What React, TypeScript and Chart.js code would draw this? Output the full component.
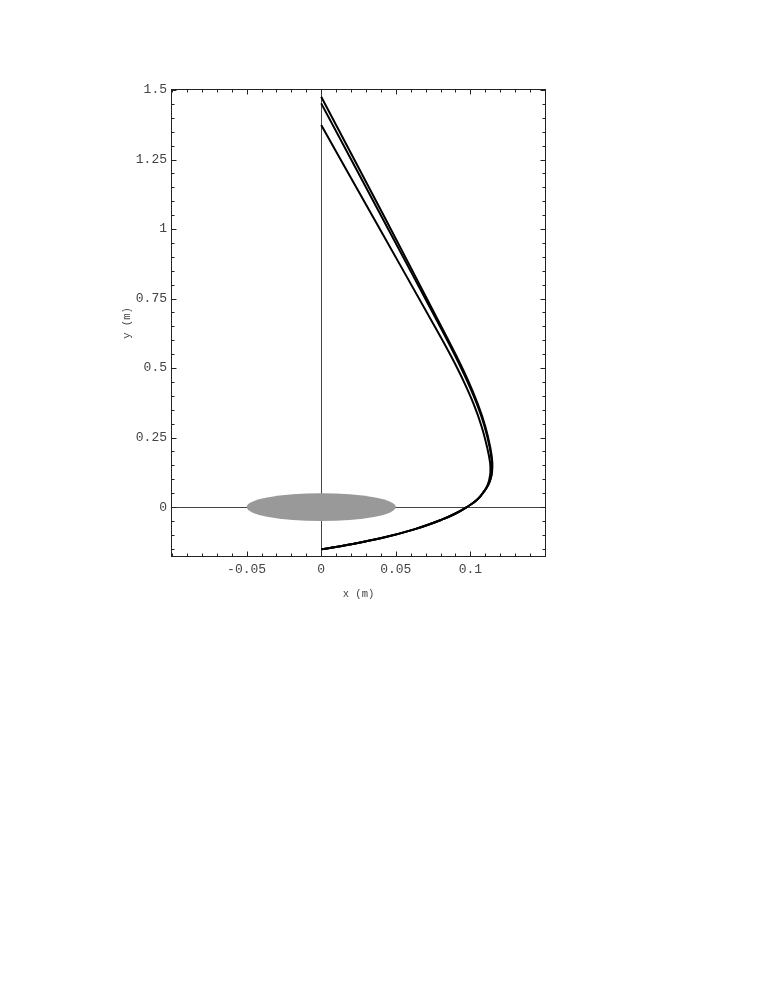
import React, { useEffect, useRef } from "react";
import { Chart, registerables } from "chart.js";

Chart.register(...registerables);

// ---- data ----
const curveA: [number, number][] = [
  [0, 1.476], [0.0432, 1.035], [0.0817, 0.637], [0.0905, 0.545], [0.0985, 0.455],
  [0.1050, 0.370], [0.1100, 0.290], [0.1133, 0.215], [0.1147, 0.160], [0.1145, 0.125],
  [0.1135, 0.100], [0.1120, 0.080], [0.1099, 0.062], [0.1045, 0.026], [0.0976, 0],
  [0.0897, -0.024], [0.0808, -0.0454], [0.0629, -0.0792], [0.0405, -0.1113], [0.0181, -0.1354], [0, -0.152],
];
const curveB: [number, number][] = [
  [0, 1.452], [0.0414, 1.035], [0.0809, 0.637], [0.0897, 0.545], [0.0977, 0.455],
  [0.1044, 0.370], [0.1095, 0.290], [0.1129, 0.215], [0.1144, 0.160], [0.1143, 0.125],
  [0.1134, 0.100], [0.1120, 0.080], [0.1099, 0.062], [0.1045, 0.026], [0.0976, 0],
  [0.0897, -0.024], [0.0808, -0.0454], [0.0629, -0.0792], [0.0405, -0.1113], [0.0181, -0.1354], [0, -0.152],
];
const curveC: [number, number][] = [
  [0, 1.374], [0.0356, 1.035], [0.0795, 0.617], [0.0878, 0.535], [0.0955, 0.452],
  [0.1022, 0.370], [0.1075, 0.290], [0.1112, 0.215], [0.1132, 0.160], [0.1134, 0.125],
  [0.1127, 0.100], [0.1116, 0.080], [0.1099, 0.062], [0.1045, 0.026], [0.0976, 0],
  [0.0897, -0.024], [0.0808, -0.0454], [0.0629, -0.0792], [0.0405, -0.1113], [0.0181, -0.1354], [0, -0.152],
];
const xTickValues = [-0.05, 0, 0.05, 0.1];
const xTickLabels = ["-0.05", "0", "0.05", "0.1"];
const yTickValues = [0, 0.25, 0.5, 0.75, 1, 1.25, 1.5];
const yTickLabels = ["0", "0.25", "0.5", "0.75", "1", "1.25", "1.5"];
const xRange = [-0.1, 0.15];
const yRange = [-0.176, 1.5];
const xMinorStep = 0.01;
const yMinorStep = 0.05;
const ball = { cx: 0, cy: 0, r: 0.05 };

const toPts = (arr: [number, number][]) => arr.map(([x, y]) => ({ x, y }));

const framePlugin = {
  id: "frameTicks",
  beforeDatasetsDraw(chart: any) {
    const { ctx, chartArea: a, scales } = chart;
    const xs = scales.x, ys = scales.y;
    ctx.save();
    ctx.strokeStyle = "#444";
    ctx.lineWidth = 1;
    const x0 = Math.round(xs.getPixelForValue(0)) + 0.5;
    const y0 = Math.round(ys.getPixelForValue(0)) + 0.5;
    ctx.beginPath();
    ctx.moveTo(x0, a.top); ctx.lineTo(x0, a.bottom);
    ctx.moveTo(a.left, y0); ctx.lineTo(a.right, y0);
    ctx.stroke();
    // ball
    const cx = xs.getPixelForValue(ball.cx), cy = ys.getPixelForValue(ball.cy);
    const rx = Math.abs(xs.getPixelForValue(ball.cx + ball.r) - cx);
    const ry = Math.abs(ys.getPixelForValue(ball.cy + ball.r) - cy);
    ctx.fillStyle = "#999999";
    ctx.beginPath();
    ctx.ellipse(cx, cy, rx, ry, 0, 0, Math.PI * 2);
    ctx.fill();
    ctx.restore();
  },
  afterDraw(chart: any) {
    const { ctx, chartArea: a, scales } = chart;
    const xs = scales.x, ys = scales.y;
    ctx.save();
    ctx.strokeStyle = "#222";
    ctx.lineWidth = 1;
    ctx.strokeRect(Math.round(a.left) - 0.5, Math.round(a.top) - 0.5, Math.round(a.right - a.left) + 1, Math.round(a.bottom - a.top) + 1);
    const major = 4.5, minor = 2.5;
    ctx.beginPath();
    const isMajorX = (v: number) => xTickValues.some((t) => Math.abs(t - v) < 1e-6);
    const isMajorY = (v: number) => yTickValues.some((t) => Math.abs(t - v) < 1e-6);
    for (let i = Math.ceil(xRange[0] / xMinorStep); i * xMinorStep <= xRange[1] + 1e-9; i++) {
      const v = i * xMinorStep;
      const p = Math.round(xs.getPixelForValue(v)) + 0.5;
      const len = isMajorX(v) ? major : minor;
      ctx.moveTo(p, a.bottom); ctx.lineTo(p, a.bottom - len);
      ctx.moveTo(p, a.top); ctx.lineTo(p, a.top + len);
    }
    for (let i = Math.ceil(yRange[0] / yMinorStep); i * yMinorStep <= yRange[1] + 1e-9; i++) {
      const v = i * yMinorStep;
      const p = Math.round(ys.getPixelForValue(v)) + 0.5;
      const len = isMajorY(v) ? major : minor;
      ctx.moveTo(a.left, p); ctx.lineTo(a.left + len, p);
      ctx.moveTo(a.right, p); ctx.lineTo(a.right - len, p);
    }
    ctx.stroke();
    ctx.restore();
  },
};

export default function App() {
  const ref = useRef<HTMLCanvasElement>(null);
  useEffect(() => {
    if (!ref.current) return;
    const ds = (pts: [number, number][]) => ({
      data: toPts(pts),
      showLine: true,
      borderColor: "#000",
      borderWidth: 2,
      pointRadius: 0,
      tension: 0.4,
      fill: false,
    });
    const tickFont = { family: "'Liberation Mono', 'DejaVu Sans Mono', monospace", size: 13 };
    const titleFont = { family: "'Liberation Mono', 'DejaVu Sans Mono', monospace", size: 10.5 };
    const chart = new Chart(ref.current, {
      type: "scatter",
      data: { datasets: [ds(curveA), ds(curveB), ds(curveC)] },
      options: {
        animation: false,
        responsive: false,
        devicePixelRatio: 1,
        layout: { padding: { left: 121, top: 90, right: 218, bottom: 397 } },
        plugins: { legend: { display: false }, tooltip: { enabled: false } },
        scales: {
          x: {
            type: "linear",
            min: xRange[0],
            max: xRange[1],
            grid: { display: false, drawTicks: false },
            border: { display: false },
            afterBuildTicks: (s: any) => { s.ticks = xTickValues.map((v) => ({ value: v })); },
            afterFit: (s: any) => { s.height = 45; },
            ticks: {
              color: "#444",
              font: tickFont,
              padding: 6,
              maxRotation: 0,
              autoSkip: false,
              callback: (v: any) => { const i = xTickValues.findIndex((t) => Math.abs(t - v) < 1e-9); return i >= 0 ? xTickLabels[i] : ""; },
            },
            title: { display: true, text: "x (m)", color: "#444", font: titleFont, padding: 0 },
          },
          y: {
            type: "linear",
            min: yRange[0],
            max: yRange[1],
            grid: { display: false, drawTicks: false },
            border: { display: false },
            afterBuildTicks: (s: any) => { s.ticks = yTickValues.map((v) => ({ value: v })); },
            afterFit: (s: any) => { s.width = 51; },
            ticks: {
              color: "#444",
              font: tickFont,
              padding: 5,
              autoSkip: false,
              callback: (v: any) => { const i = yTickValues.findIndex((t) => Math.abs(t - v) < 1e-9); return i >= 0 ? yTickLabels[i] : ""; },
            },
            title: { display: true, text: "y (m)", color: "#444", font: titleFont, padding: 0 },
          },
        },
      },
      plugins: [framePlugin],
    } as any);
    return () => chart.destroy();
  }, []);
  return (
    <div style={{ position: "absolute", left: 0, top: 0, width: 763, height: 998, background: "#fff" }}>
      <canvas ref={ref} width={763} height={998} style={{ width: 763, height: 998, display: "block" }} />
    </div>
  );
}
